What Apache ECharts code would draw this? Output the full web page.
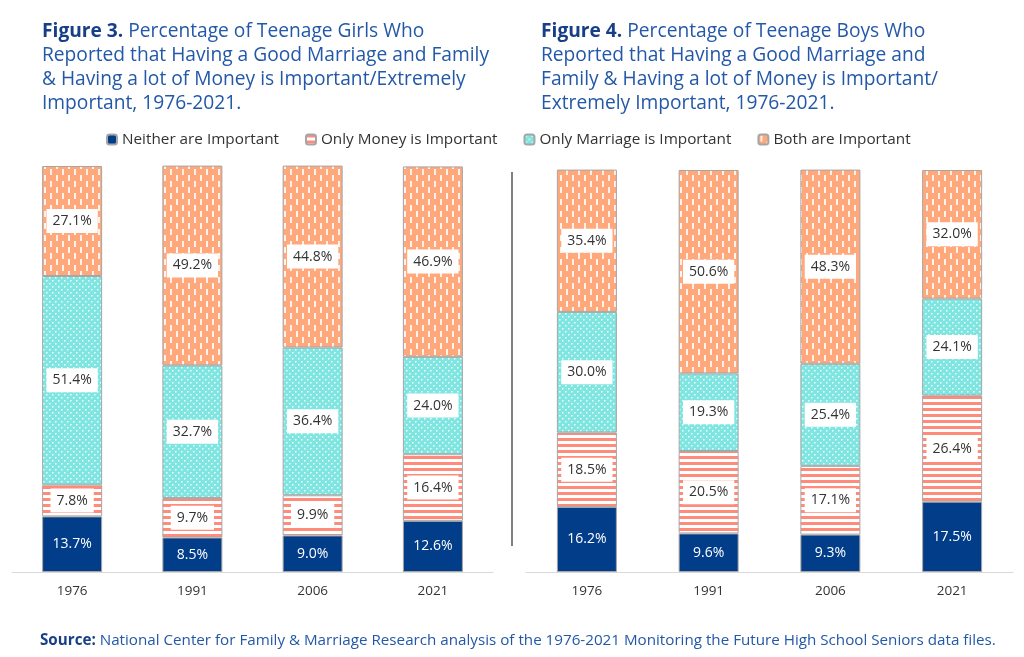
<!DOCTYPE html>
<html><head><meta charset="utf-8">
<script src="https://cdn.jsdelivr.net/npm/echarts@6/dist/echarts.min.js"></script>
<style>html,body{margin:0;padding:0;background:#fff}#c{width:1024px;height:657px}</style>
</head><body><div id="c"></div>
<script>
const years = ['1976', '1991', '2006', '2021'];
const seriesNames = ['Neither are Important', 'Only Money is Important', 'Only Marriage is Important', 'Both are Important'];
const girlsNeither = [13.7, 8.5, 9.0, 12.6];
const girlsMoney = [7.8, 9.7, 9.9, 16.4];
const girlsMarriage = [51.4, 32.7, 36.4, 24.0];
const girlsBoth = [27.1, 49.2, 44.8, 46.9];
const boysNeither = [16.2, 9.6, 9.3, 17.5];
const boysMoney = [18.5, 20.5, 17.1, 26.4];
const boysMarriage = [30.0, 19.3, 25.4, 24.1];
const boysBoth = [35.4, 50.6, 48.3, 32.0];

function makePattern(w, h, bg, draw) {
  const c = document.createElement('canvas');
  c.width = w; c.height = h;
  const ctx = c.getContext('2d');
  ctx.fillStyle = bg; ctx.fillRect(0, 0, w, h);
  draw(ctx);
  return { image: c, repeat: 'repeat' };
}
const NAVY = '#023d89';
const moneyPat = makePattern(6, 6, '#ffffff', ctx => { ctx.fillStyle = '#ff8b7a'; ctx.fillRect(0, 0, 6, 3); });
const marriagePat = makePattern(6, 6, '#7ee5e1', ctx => {
  ctx.fillStyle = 'rgba(255,255,255,0.9)';
  ctx.fillRect(1, 1, 1.5, 1.5); ctx.fillRect(4, 4, 1.5, 1.5);
});
const bothPat = makePattern(12, 12, '#ffa87c', ctx => {
  ctx.fillStyle = 'rgba(255,255,255,0.85)';
  ctx.fillRect(2, 1, 2, 6); ctx.fillRect(8, 7, 2, 6); ctx.fillRect(8, -5, 2, 6);
});
const fills = [NAVY, moneyPat, marriagePat, bothPat];

function mkSeries(idx, datasets) {
  return datasets.map((d, i) => ({
    name: seriesNames[i], type: 'bar', stack: 's' + idx,
    xAxisIndex: idx, yAxisIndex: idx, barWidth: 60, data: d,
    itemStyle: { color: fills[i], borderColor: '#a6a6a6', borderWidth: 1 },
    label: {
      show: true, position: 'inside', fontFamily: 'Open Sans', fontSize: 14,
      formatter: p => p.value.toFixed(1) + '%',
      color: i === 0 ? '#ffffff' : '#333333',
      backgroundColor: i === 0 ? 'transparent' : '#ffffff',
      padding: [5, 6]
    },
    emphasis: { disabled: true }
  }));
}

const titleRich = {
  b: { fontFamily: 'Open Sans', fontSize: 19.2, fontWeight: 'bold', color: '#173f88', lineHeight: 24 },
  n: { fontFamily: 'Open Sans', fontSize: 19.2, fontWeight: 'normal', color: '#2358a8', lineHeight: 24 }
};

const chart = echarts.init(document.getElementById('c'));
chart.setOption({
  animation: false,
  title: [
    { left: 42, top: 20, padding: 0, text: '{b|Figure 3.}{n| Percentage of Teenage Girls Who}\n{n|Reported that Having a Good Marriage and Family}\n{n|& Having a lot of Money is Important/Extremely}\n{n|Important, 1976-2021.}', textStyle: { fontWeight: 'normal', rich: titleRich } },
    { left: 541, top: 20, padding: 0, text: '{b|Figure 4.}{n| Percentage of Teenage Boys Who}\n{n|Reported that Having a Good Marriage and}\n{n|Family & Having a lot of Money is Important/}\n{n|Extremely Important, 1976-2021.}', textStyle: { fontWeight: 'normal', rich: titleRich } },
    { left: 40, top: 633, padding: 0, text: '{b|Source:}{n| National Center for Family & Marriage Research analysis of the 1976-2021 Monitoring the Future High School Seniors data files.}',
      textStyle: { fontWeight: 'normal', rich: { b: { fontFamily: 'Open Sans', fontSize: 15.2, fontWeight: 'bold', color: '#173f88' }, n: { fontFamily: 'Open Sans', fontSize: 15.2, fontWeight: 'normal', color: '#2358a8' } } } }
  ],
  legend: {
    data: seriesNames, left: 106, top: 132, padding: 0, itemWidth: 10, itemHeight: 10, itemGap: 26,
    textStyle: { fontFamily: 'Open Sans', fontSize: 15.3, color: '#333333' },
    selectedMode: false
  },
  grid: [
    { left: 12, width: 481, top: 166, height: 406 },
    { left: 526, width: 487, top: 170, height: 402 }
  ],
  xAxis: [0, 1].map(i => ({
    type: 'category', gridIndex: i, data: years,
    axisLine: { lineStyle: { color: '#d9d9d9', width: 1 } },
    axisTick: { show: false },
    axisLabel: { fontFamily: 'Open Sans', fontSize: 13.5, color: '#333333', margin: 12 }
  })),
  yAxis: [0, 1].map(i => ({
    type: 'value', gridIndex: i, min: 0, max: 100, show: false, splitLine: { show: false }
  })),
  graphic: [
    { type: 'line', shape: { x1: 512, y1: 172, x2: 512, y2: 546 }, style: { stroke: '#808080', lineWidth: 2 } }
  ],
  series: [
    ...mkSeries(0, [girlsNeither, girlsMoney, girlsMarriage, girlsBoth]),
    ...mkSeries(1, [boysNeither, boysMoney, boysMarriage, boysBoth])
  ]
});
</script></body></html>
